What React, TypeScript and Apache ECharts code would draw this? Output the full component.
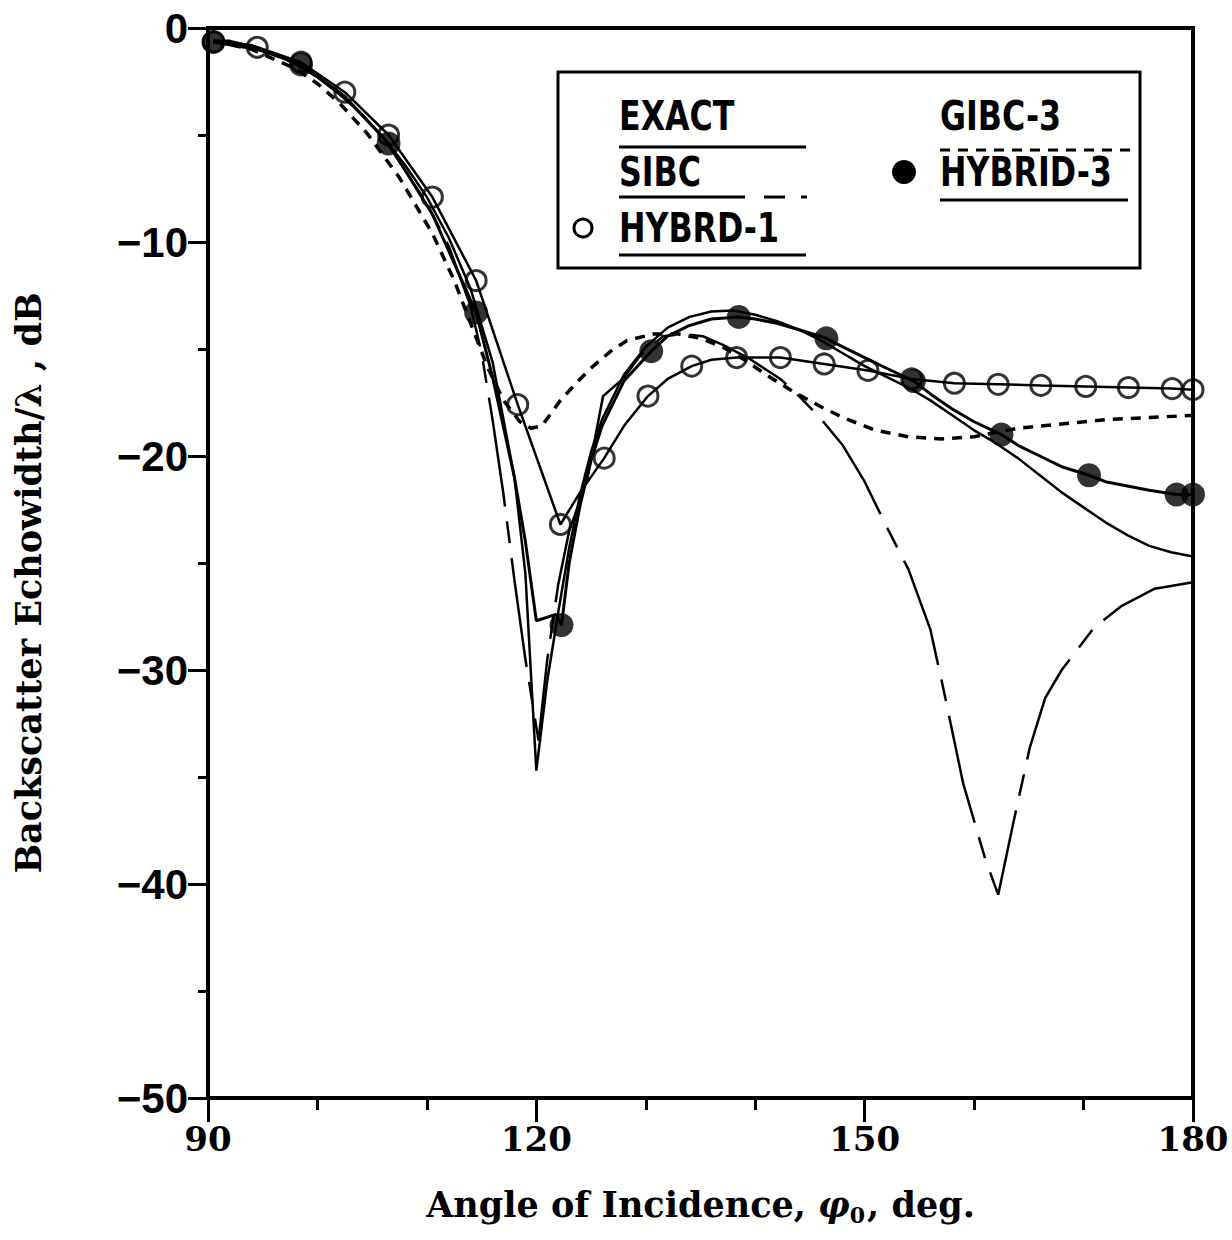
import React, { useEffect, useRef } from "react";
import * as echarts from "echarts";

// ---- axis ticks ----
const xTickValues = [90, 120, 150, 180];
const yTickValues = [0, -10, -20, -30, -40, -50];

// ---- series data: [angle (deg), echowidth (dB)] ----
const exactPoints = [
  [90.5, -0.6], [92, -0.6], [94, -0.85], [96, -1.2], [98, -1.7], [100, -2.3], [102, -3.1], [104, -4.0],
  [106, -5.1], [108, -6.4], [110, -7.9], [112, -9.8], [114, -12.2], [116, -15.6], [118, -21.0], [119, -25.5],
  [120, -34.7], [121, -30.5], [122, -27.3], [123, -24.3], [124, -21.8], [125, -19.8], [126, -18.3], [128, -16.2],
  [130, -14.9], [132, -14.0], [134, -13.5], [136, -13.25], [138, -13.2], [140, -13.4], [142, -13.7], [144, -14.1],
  [146, -14.6], [148, -15.2], [150, -15.8], [152, -16.3], [154, -16.8], [156, -17.4], [158, -18.1], [160, -18.8],
  [162, -19.4], [164, -20.1], [166, -20.9], [168, -21.7], [170, -22.4], [172, -23.1], [174, -23.7], [176, -24.2],
  [178, -24.5], [180, -24.7],
];

const sibcPoints = [
  [90.5, -0.6], [94, -0.8], [98, -1.6], [102, -3.0], [106, -5.1], [110, -8.2], [112, -10.2], [114, -13.0],
  [115, -15.2], [116, -18.3], [117, -21.8], [118, -25.8], [119, -29.5], [120.2, -33.3], [121, -29.5], [122, -26.0],
  [123, -23.5], [124.6, -21.2], [126.1, -17.2], [127.9, -16.4], [129.5, -15.3], [131.6, -14.4], [133.5, -14.3],
  [135.2, -14.4], [137, -14.8], [139.3, -15.4], [142.3, -16.4], [144, -17.2], [145.9, -18.2], [148, -19.5],
  [150, -21.2], [152, -23.3], [154, -25.3], [156, -28.1], [157.2, -30.9], [159, -35.3], [161, -38.8], [162.2, -40.5],
  [163.6, -37.1], [165.1, -33.6], [166.5, -31.3], [168, -30.0], [171, -28.0], [173.5, -27.0], [176.5, -26.2], [180, -25.9],
];

const gibc3Points = [
  [90.5, -0.6], [94, -1.0], [98, -1.9], [100, -2.6], [102, -3.5], [104.5, -4.9], [107.5, -7.0], [110.5, -9.6],
  [112.5, -11.8], [114, -13.8], [115.5, -15.8], [117, -17.4], [118.5, -18.4], [119.5, -18.7], [120.5, -18.6],
  [122.2, -17.4], [124, -16.4], [125.2, -15.8], [126.8, -15.1], [128.3, -14.6], [130.7, -14.3], [133, -14.3],
  [135, -14.5], [137, -14.9], [139, -15.5], [141, -16.2], [143.5, -17.0], [146, -17.7], [148, -18.2], [151, -18.8],
  [154, -19.1], [157, -19.2], [160, -19.1], [164, -18.7], [168, -18.5], [172, -18.3], [176, -18.2], [180, -18.1],
];

const hybrd1Line = [
  [90.5, -0.65], [94.5, -0.9], [98.5, -1.6], [102.5, -3.0], [106.5, -5.0], [110.5, -7.9], [114.5, -11.8],
  [118.3, -17.6], [122.2, -23.2], [124, -21.7], [126.2, -20.1], [128, -18.6], [130.2, -17.2], [132, -16.4],
  [134.2, -15.8], [136, -15.5], [138.3, -15.4], [142.3, -15.4], [146.3, -15.7], [150.3, -16.0], [154.3, -16.4],
  [158.2, -16.6], [162.2, -16.65], [166.1, -16.7], [170.2, -16.75], [174.1, -16.8], [178.1, -16.85], [180, -16.9],
];
const hybrd1Markers = [
  [90.5, -0.65], [94.5, -0.9], [98.5, -1.6], [102.5, -3.0], [106.5, -5.0], [110.5, -7.9], [114.5, -11.8],
  [118.3, -17.6], [122.2, -23.2], [126.2, -20.1], [130.2, -17.2], [134.2, -15.8], [138.3, -15.4], [142.3, -15.4],
  [146.3, -15.7], [150.3, -16.0], [154.3, -16.4], [158.2, -16.6], [162.2, -16.65], [166.1, -16.7], [170.2, -16.75],
  [174.1, -16.8], [178.1, -16.85], [180, -16.9],
];

const hybrid3Line = [
  [90.5, -0.65], [94.5, -1.0], [98.5, -1.7], [102.5, -3.2], [106.5, -5.4], [110.5, -8.7], [114.5, -13.3],
  [116, -16.3], [118, -21.0], [119, -24.0], [120, -27.7], [121.8, -27.4], [122.3, -27.9], [123, -25.0],
  [124, -22.3], [125, -20.2], [126, -18.6], [128, -16.5], [130.5, -15.1], [132, -14.4], [134, -13.9], [136, -13.6],
  [138.5, -13.5], [140, -13.6], [142, -13.8], [144, -14.1], [146.5, -14.5], [148, -14.9], [150, -15.4],
  [152, -15.9], [154.5, -16.5], [156, -17.1], [158, -17.8], [160, -18.4], [162.5, -19.0], [164, -19.5],
  [166, -20.0], [168, -20.5], [170.5, -20.9], [172, -21.2], [174, -21.4], [176, -21.6], [178.5, -21.8], [180, -21.8],
];
const hybrid3Markers = [
  [90.5, -0.65], [98.5, -1.7], [106.5, -5.4], [114.5, -13.3], [122.3, -27.9], [130.5, -15.1], [138.5, -13.5],
  [146.5, -14.5], [154.5, -16.5], [162.5, -19.0], [170.5, -20.9], [178.5, -21.8], [180, -21.8],
];

const legendNames = ["EXACT", "SIBC", "HYBRD-1", "GIBC-3", "HYBRID-3"];

const SERIF = "'DejaVu Serif', 'Liberation Serif', serif";
const SANS = "'Liberation Sans', 'DejaVu Sans', Arial, sans-serif";
const LEGEND_FONT = "'DejaVu Sans', 'Liberation Sans', sans-serif";

function buildOption() {
  const txt = (text: string, x: number, y: number) => ({
    type: "text",
    x,
    y,
    z: 20,
    scaleX: 0.88,
    scaleY: 1.12,
    style: {
      text,
      fontFamily: LEGEND_FONT,
      fontSize: 36,
      fontWeight: "bold",
      fill: "#000",
      align: "left",
      verticalAlign: "middle",
      textAlign: "left",
      textVerticalAlign: "middle",
    },
  });
  const ln = (x1: number, y1: number, x2: number, y2: number, dash?: number[]) => ({
    type: "line",
    z: 20,
    shape: { x1, y1, x2, y2 },
    style: { stroke: "#000", lineWidth: 3, lineDash: dash },
  });

  return {
    animation: false,
    backgroundColor: "#fff",
    grid: {
      left: 208,
      right: 39,
      top: 28,
      bottom: 142,
      show: true,
      borderColor: "#000",
      borderWidth: 4,
      backgroundColor: "transparent",
      containLabel: false,
      outerBoundsMode: "none",
    },
    xAxis: {
      type: "value",
      min: 90,
      max: 180,
      interval: 30,
      axisLine: { show: true, onZero: false, lineStyle: { color: "#000", width: 4 } },
      axisTick: { show: true, length: 24, lineStyle: { color: "#000", width: 3 } },
      minorTick: { show: true, splitNumber: 3, length: 12, lineStyle: { color: "#000", width: 3 } },
      splitLine: { show: false },
      axisLabel: {
        color: "#000",
        fontFamily: SERIF,
        fontWeight: "bold",
        fontSize: 34,
        margin: 24,
        formatter: (v: number) => (xTickValues.includes(v) ? String(v) : ""),
      },
      name: "{a|Angle of Incidence, }{phi|φ}{sub|0}{a|, deg.}",
      nameLocation: "middle",
      nameGap: 84,
      nameTextStyle: {
        rich: {
          a: { fontFamily: SERIF, fontSize: 35, fontWeight: "bold", color: "#000", lineHeight: 44 },
          phi: { fontFamily: SERIF, fontSize: 35, fontWeight: "bold", fontStyle: "italic", color: "#000", lineHeight: 44 },
          sub: { fontFamily: SERIF, fontSize: 22, fontWeight: "bold", color: "#000", verticalAlign: "bottom", lineHeight: 44, padding: [0, 2, 0, 0] },
        },
      },
    },
    yAxis: {
      type: "value",
      min: -50,
      max: 0,
      interval: 10,
      axisLine: { show: true, onZero: false, lineStyle: { color: "#000", width: 4 } },
      axisTick: { show: true, length: 20, lineStyle: { color: "#000", width: 3 } },
      minorTick: { show: true, splitNumber: 2, length: 10, lineStyle: { color: "#000", width: 3 } },
      splitLine: { show: false },
      axisLabel: {
        color: "#000",
        fontFamily: SANS,
        fontWeight: "bold",
        fontSize: 42,
        margin: 20,
        formatter: (v: number) => (yTickValues.includes(v) ? (v === 0 ? "0" : "\u2212" + Math.abs(v)) : ""),
      },
      name: "Backscatter Echowidth/λ , dB",
      nameLocation: "middle",
      nameGap: 162,
      nameTextStyle: { fontFamily: SERIF, fontSize: 35, fontWeight: "bold", color: "#000", padding: [0, 40, 0, 0] },
    },
    series: [
      {
        name: legendNames[0],
        type: "line",
        data: exactPoints,
        symbol: "none",
        z: 3,
        lineStyle: { color: "#000", width: 2.5 },
      },
      {
        name: legendNames[1],
        type: "line",
        data: sibcPoints,
        symbol: "none",
        z: 3,
        lineStyle: { color: "#000", width: 2.5, type: [110, 15, 22, 15] },
      },
      {
        name: legendNames[3],
        type: "line",
        data: gibc3Points,
        symbol: "none",
        z: 3,
        lineStyle: { color: "#000", width: 3.5, type: [10, 8] },
      },
      {
        name: legendNames[2],
        type: "line",
        data: hybrd1Line,
        symbol: "none",
        z: 3,
        lineStyle: { color: "#000", width: 2.5 },
      },
      {
        name: legendNames[2] + " markers",
        type: "scatter",
        data: hybrd1Markers,
        symbol: "circle",
        symbolSize: 20,
        z: 4,
        itemStyle: { color: "rgba(0,0,0,0)", borderColor: "#000", borderWidth: 3 },
      },
      {
        name: legendNames[4],
        type: "line",
        data: hybrid3Line,
        symbol: "none",
        z: 3,
        lineStyle: { color: "#000", width: 3 },
      },
      {
        name: legendNames[4] + " markers",
        type: "scatter",
        data: hybrid3Markers,
        symbol: "circle",
        symbolSize: 24,
        z: 5,
        itemStyle: { color: "#000" },
      },
    ],
    graphic: [
      {
        type: "rect",
        z: 19,
        shape: { x: 558, y: 72, width: 582, height: 196 },
        style: { fill: "#fff", stroke: "#000", lineWidth: 3 },
      },
      txt(legendNames[0], 619, 116),
      ln(619, 147, 806, 147),
      txt(legendNames[1], 619, 172),
      ln(619, 197, 745, 197),
      ln(764, 197, 785, 197),
      ln(801, 197, 807, 197),
      {
        type: "circle",
        z: 20,
        shape: { cx: 583, cy: 228, r: 9 },
        style: { fill: "none", stroke: "#000", lineWidth: 3 },
      },
      txt(legendNames[2], 619, 228),
      ln(619, 255, 806, 255),
      txt(legendNames[3], 940, 116),
      ln(940, 150, 1130, 150, [10, 8]),
      {
        type: "circle",
        z: 20,
        shape: { cx: 904, cy: 172, r: 12 },
        style: { fill: "#000" },
      },
      txt(legendNames[4], 940, 172),
      ln(940, 200, 1128, 200),
    ],
  };
}

export default function App() {
  const ref = useRef<HTMLDivElement>(null);
  useEffect(() => {
    if (!ref.current) return;
    const chart = echarts.init(ref.current, null, { renderer: "svg" });
    chart.setOption(buildOption() as any);
    return () => chart.dispose();
  }, []);
  return (
    <div
      ref={ref}
      style={{ position: "absolute", left: 0, top: 0, width: 1232, height: 1240, background: "#fff" }}
    />
  );
}
